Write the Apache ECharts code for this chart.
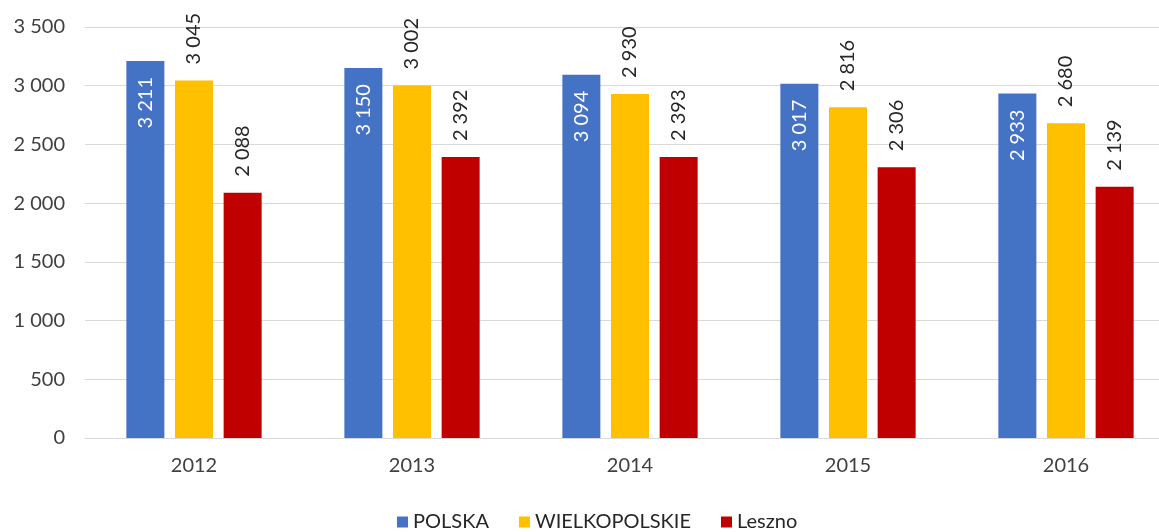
<!DOCTYPE html>
<html>
<head>
<meta charset="utf-8">
<script src="https://cdn.jsdelivr.net/npm/echarts@6/dist/echarts.min.js"></script>
<style>
html,body{margin:0;padding:0;background:#fff;}
#chart{width:1159px;height:532px;}
</style>
</head>
<body>
<div id="chart"></div>
<script>
// dane
var years = ['2012', '2013', '2014', '2015', '2016'];
var polska = [3211, 3150, 3094, 3017, 2933];
var wielkopolskie = [3045, 3002, 2930, 2816, 2680];
var leszno = [2088, 2392, 2393, 2306, 2139];

var FONT = 'Lato, "Open Sans", sans-serif';

// separator tysięcy jako spacja
function fmt(v) {
	return String(v).replace(/\B(?=(\d{3})+(?!\d))/g, ' ');
}

function topLabel(color) {
	return {
		show: true,
		position: 'top',
		rotate: 90,
		align: 'left',
		verticalAlign: 'middle',
		distance: 16,
		color: color,
		fontSize: 20,
		fontFamily: FONT,
		formatter: function (p) { return fmt(p.value); }
	};
}

var myChart = echarts.init(document.getElementById('chart'));
var option = {
	animation: false,
	// obszar wykresu wychodzi poza prawą krawędź (jak w oryginale)
	grid: { left: 85, width: 1090, top: 27, bottom: 94, outerBoundsMode: 'none', containLabel: false },
	legend: {
		top: 507,
		left: 392,
		itemWidth: 11,
		itemHeight: 11,
		itemGap: 30,
		icon: 'rect',
		textStyle: { color: '#262626', fontSize: 20, fontFamily: FONT },
		data: ['POLSKA', 'WIELKOPOLSKIE', 'Leszno']
	},
	xAxis: {
		type: 'category',
		data: years,
		axisLine: { lineStyle: { color: '#d9d9d9' } },
		axisTick: { show: false },
		axisLabel: { color: '#404040', fontSize: 20, fontFamily: FONT, margin: 18 }
	},
	yAxis: {
		type: 'value',
		min: 0,
		max: 3500,
		interval: 500,
		axisLine: { show: false },
		axisTick: { show: false },
		splitLine: { lineStyle: { color: '#d9d9d9' } },
		axisLabel: {
			color: '#404040', fontSize: 20, fontFamily: FONT, margin: 20,
			formatter: function (v) { return fmt(v); }
		}
	},
	series: [
		{
			name: 'POLSKA',
			type: 'bar',
			data: polska,
			barWidth: 38,
			barGap: '28%',
			itemStyle: { color: '#4472C4' },
			label: {
				show: true,
				position: 'insideTop',
				rotate: 90,
				align: 'right',
				verticalAlign: 'middle',
				distance: 16,
				color: '#ffffff',
				fontSize: 20,
				fontFamily: FONT,
				formatter: function (p) { return fmt(p.value); }
			}
		},
		{
			name: 'WIELKOPOLSKIE',
			type: 'bar',
			data: wielkopolskie,
			barWidth: 38,
			barGap: '28%',
			itemStyle: { color: '#FFC000' },
			label: topLabel('#262626')
		},
		{
			name: 'Leszno',
			type: 'bar',
			data: leszno,
			barWidth: 38,
			barGap: '28%',
			itemStyle: { color: '#C00000' },
			label: topLabel('#262626')
		}
	]
};
myChart.setOption(option);
</script>
</body>
</html>
